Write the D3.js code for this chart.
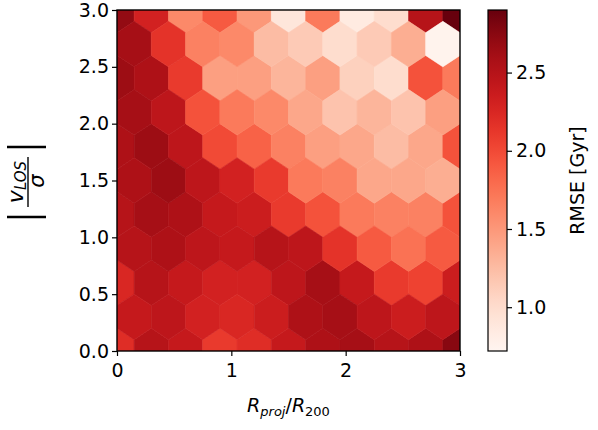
<!DOCTYPE html>
<html><head><meta charset="utf-8">
<script src="https://cdn.jsdelivr.net/npm/d3@7"></script>
<style>body{margin:0;background:#fff}text{font-family:"DejaVu Sans",sans-serif;fill:#000}</style>
</head><body><svg id="c" width="598" height="430"></svg>
<script>
// Lattice 1 rows (x = 0,0.3,...,3.0), y = 3.0,2.4,1.8,1.2,0.6,0.0
const lattice1Y = [3.0, 2.4, 1.8, 1.2, 0.6, 0.0];
const lattice1Vals = [
  [2.7,2.3,1.6,1.9,1.5,0.9,1.7,0.85,1.0,2.5,2.9],
  [2.65,2.55,2.1,1.45,1.45,1.3,1.45,1.1,1.0,1.95,1.7],
  [2.55,2.65,2.45,2.0,1.85,1.65,1.45,1.4,1.25,1.4,1.95],
  [2.5,2.6,2.55,2.4,2.35,2.1,1.95,1.7,1.65,1.65,1.95],
  [2.25,2.5,2.4,2.3,2.3,2.45,2.6,2.4,2.1,2.05,2.35],
  [2.2,2.5,2.4,2.1,2.2,2.4,2.55,2.6,2.5,2.55,2.75]
];
// Lattice 2 rows (x = 0.15,...,2.85), y = 2.7,2.1,1.5,0.9,0.3
const lattice2Y = [2.7, 2.1, 1.5, 0.9, 0.3];
const lattice2Vals = [
  [2.6,2.15,1.65,1.6,1.25,1.15,1.0,1.15,1.35,0.75],
  [2.6,2.45,1.95,1.7,1.6,1.4,1.2,1.3,1.2,1.45],
  [2.55,2.65,2.45,2.3,2.1,1.7,1.65,1.4,1.4,1.35],
  [2.5,2.55,2.45,2.4,2.5,2.45,2.15,1.9,1.75,1.9],
  [2.4,2.45,2.3,2.25,2.35,2.55,2.6,2.45,2.35,2.45]
];
const axisTicks = [0,1,2,3];
const yTicks = [0.0,0.5,1.0,1.5,2.0,2.5,3.0];
const cbTicks = [1.0,1.5,2.0,2.5];

const svg = d3.select("#c");
const L=117,R=460,T=10,B=351;
const x = d3.scaleLinear().domain([0,3]).range([L,R]);
const y = d3.scaleLinear().domain([0,3]).range([B,T]);
const cdom=[0.72,2.9];
const color = d3.scaleSequential(d3.interpolateReds).domain(cdom);

const cells=[];
lattice1Y.forEach((yy,r)=>lattice1Vals[r].forEach((v,i)=>cells.push({x:i*0.3,y:yy,v})));
lattice2Y.forEach((yy,r)=>lattice2Vals[r].forEach((v,i)=>cells.push({x:0.15+i*0.3,y:yy,v})));

svg.append("clipPath").attr("id","cp").append("rect").attr("x",L).attr("y",T).attr("width",R-L).attr("height",B-T);
const hexPts=[[.5,-.5],[.5,.5],[0,1],[-.5,.5],[-.5,-.5],[0,-1]];
svg.append("g").attr("clip-path","url(#cp)").selectAll("path").data(cells).join("path")
  .attr("d",d=>"M"+hexPts.map(p=>[x(d.x+p[0]*0.3),y(d.y+p[1]*0.2)].join(",")).join("L")+"Z")
  .attr("fill",d=>color(d.v)).attr("stroke",d=>color(d.v)).attr("stroke-width",0.6);

const fs=19;
const ax=svg.append("g").attr("transform",`translate(0,${B})`).call(d3.axisBottom(x).tickValues(axisTicks).tickFormat(d3.format("d")).tickSize(5));
const ay=svg.append("g").attr("transform",`translate(${L},0)`).call(d3.axisLeft(y).tickValues(yTicks).tickFormat(d3.format(".1f")).tickSize(5));
[ax,ay].forEach(g=>{g.selectAll("text").attr("font-size",fs).attr("font-family","DejaVu Sans");g.select(".domain").remove();g.selectAll("line").attr("stroke","#000").attr("stroke-width",1.2);});
ax.selectAll("text").attr("dy","0.95em");
ay.selectAll("text").attr("x",-8);
svg.append("rect").attr("x",L).attr("y",T).attr("width",R-L).attr("height",B-T).attr("fill","none").attr("stroke","#000").attr("stroke-width",1.4);

// x label
const xl=svg.append("text").attr("x",(L+R)/2).attr("y",412).attr("text-anchor","middle").attr("font-size",fs);
xl.append("tspan").attr("font-style","italic").text("R");
xl.append("tspan").attr("font-style","italic").attr("font-size",13).attr("dy",4).text("proj");
xl.append("tspan").attr("dy",-4).text("/");
xl.append("tspan").attr("font-style","italic").text("R");
xl.append("tspan").attr("font-size",13).attr("dy",4).text("200");

// y label
const yl=svg.append("g").attr("transform","translate(28,182) rotate(-90)");
yl.append("line").attr("x1",-35).attr("x2",-35).attr("y1",-21).attr("y2",18).attr("stroke","#000").attr("stroke-width",2.5);
yl.append("line").attr("x1",35).attr("x2",35).attr("y1",-21).attr("y2",18).attr("stroke","#000").attr("stroke-width",2.5);
yl.append("line").attr("x1",-25).attr("x2",25).attr("y1",0).attr("y2",0).attr("stroke","#000").attr("stroke-width",1.4);
const num=yl.append("text").attr("x",0).attr("y",-5).attr("text-anchor","middle").attr("font-size",22);
num.append("tspan").attr("font-style","italic").text("v");
num.append("tspan").attr("font-style","italic").attr("font-size",15).attr("dy",3).text("LOS");
yl.append("text").attr("x",1).attr("y",16).attr("text-anchor","middle").attr("font-size",21).attr("font-style","italic").text("σ");

// colorbar
const cbX=488,cbW=19;
const cy=d3.scaleLinear().domain(cdom).range([B,T]);
const grad=svg.append("defs").append("linearGradient").attr("id","gr").attr("x1",0).attr("y1",1).attr("x2",0).attr("y2",0);
d3.range(0,1.0001,0.05).forEach(t=>grad.append("stop").attr("offset",t).attr("stop-color",color(cdom[0]+t*(cdom[1]-cdom[0]))));
svg.append("rect").attr("x",cbX).attr("y",T).attr("width",cbW).attr("height",B-T).attr("fill","url(#gr)").attr("stroke","#000").attr("stroke-width",1.2);
const ac=svg.append("g").attr("transform",`translate(${cbX+cbW},0)`).call(d3.axisRight(cy).tickValues(cbTicks).tickFormat(d3.format(".1f")).tickSize(5));
ac.select(".domain").remove();ac.selectAll("text").attr("font-size",fs).attr("font-family","DejaVu Sans").attr("x",9);ac.selectAll("line").attr("stroke","#000").attr("stroke-width",1.2);
svg.append("text").attr("transform",`translate(584,${(T+B)/2}) rotate(-90)`).attr("text-anchor","middle").attr("font-size",fs).text("RMSE [Gyr]");
</script></body></html>
